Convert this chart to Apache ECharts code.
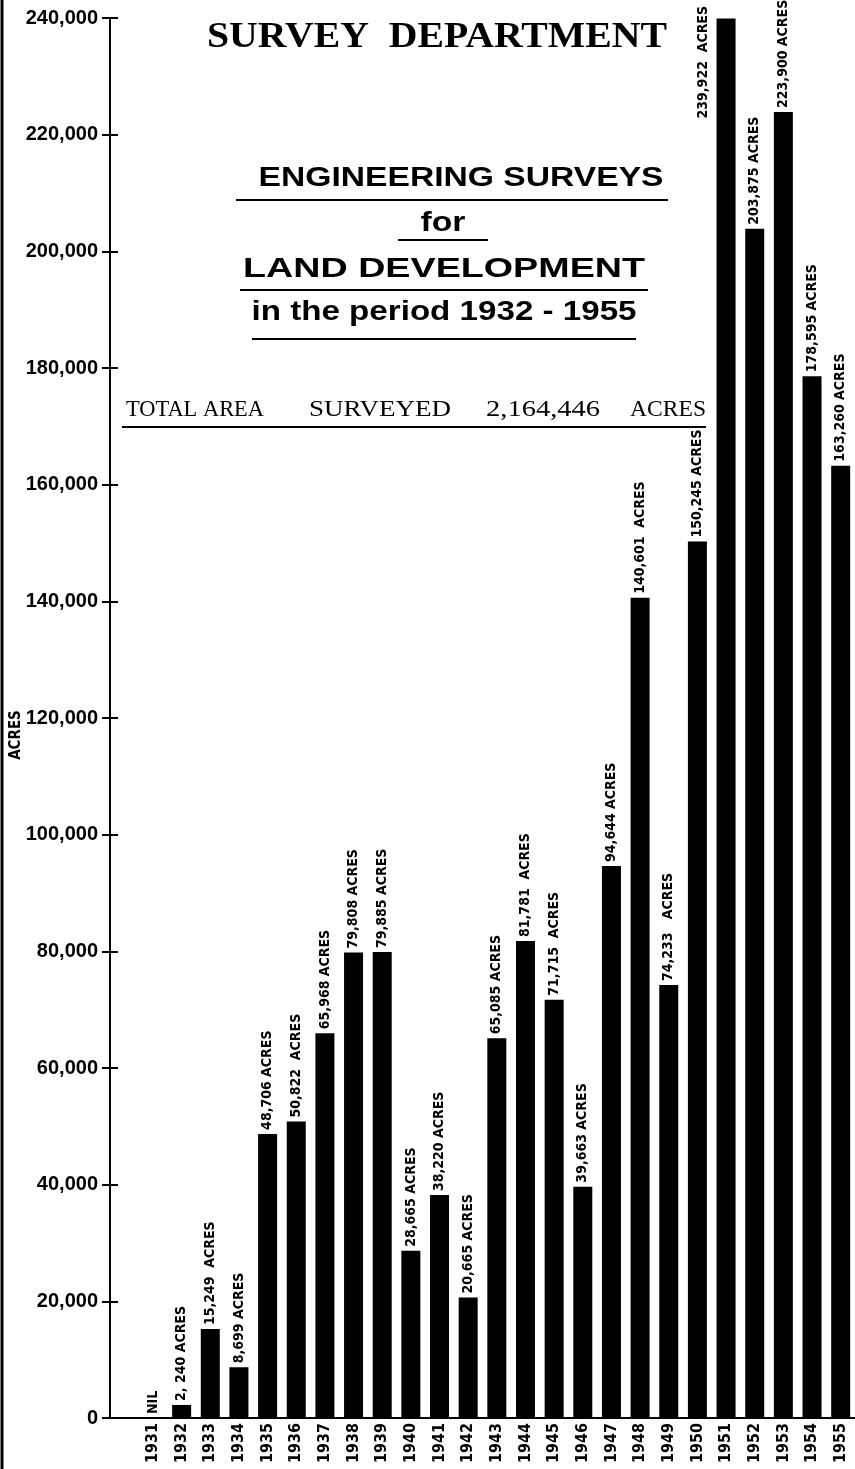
<!DOCTYPE html>
<html>
<head>
<meta charset="utf-8">
<script src="https://cdn.jsdelivr.net/npm/echarts@6/dist/echarts.min.js"></script>
<style>
html,body{margin:0;padding:0;background:#fff;}
#chart{width:855px;height:1469px;}
</style>
</head>
<body>
<div id="chart"></div>
<script>
// ---- data ----
var years = [1931,1932,1933,1934,1935,1936,1937,1938,1939,1940,1941,1942,1943,1944,1945,1946,1947,1948,1949,1950,1951,1952,1953,1954,1955];
var acres = [0,2240,15249,8699,48706,50822,65968,79808,79885,28665,38220,20665,65085,81781,71715,39663,94644,140601,74233,150245,239922,203875,223900,178595,163260];
var barLabels = ["NIL","2, 240 ACRES","15,249  ACRES","8,699 ACRES","48,706 ACRES","50,822  ACRES","65,968 ACRES","79,808 ACRES","79,885 ACRES","28,665 ACRES","38,220 ACRES","20,665 ACRES","65,085 ACRES","81,781  ACRES","71,715  ACRES","39,663 ACRES","94,644 ACRES","140,601  ACRES","74,233   ACRES","150,245 ACRES","239,922  ACRES","203,875 ACRES","223,900 ACRES","178,595 ACRES","163,260 ACRES"];
var yTicks = [0,20000,40000,60000,80000,100000,120000,140000,160000,180000,200000,220000,240000];
var titleMain = "SURVEY  DEPARTMENT";
var subTitles = ["ENGINEERING SURVEYS","for","LAND DEVELOPMENT","in the period 1932 - 1955"];
var totalWords = ["TOTAL AREA","SURVEYED","2,164,446","ACRES"];
var yName = "ACRES";

var COND = "'DejaVu Sans Condensed','Liberation Sans Narrow',sans-serif";
var SERIF = "'Liberation Serif','DejaVu Serif',serif";
var SANS = "'Liberation Sans','DejaVu Sans',sans-serif";

var measureCtx = document.createElement('canvas').getContext('2d');
function textW(txt, font){ measureCtx.font = font; return measureCtx.measureText(txt).width; }
function stretchedText(txt, font, cx, cy, targetW){
  var w = textW(txt, font);
  return {type:'text', x:cx, y:cy, scaleX: targetW / w, z:10,
    style:{text:txt, font:font, fill:'#000', x:0, y:0, align:'center', textAlign:'center', verticalAlign:'middle', textVerticalAlign:'middle'}};
}
function hline(x1,x2,y,w){
  return {type:'line', z:10, shape:{x1:x1,y1:y,x2:x2,y2:y}, style:{stroke:'#000', lineWidth:w||2}};
}

var seriesData = years.map(function(y,i){
  var item = {value:[y, acres[i]]};
  if (y === 1951) {
    item.label = {position:[-13, 100]};
  }
  return item;
});

var chart = echarts.init(document.getElementById('chart'), null, {renderer:'canvas'});
var fT = 'bold 36px ' + SERIF;
var fS = 'bold 27px ' + SANS;
var fTot = '24px ' + SERIF;
chart.setOption({
  animation:false,
  backgroundColor:'#fff',
  grid:{left:110, right:0, top:18, bottom:51, containLabel:false, outerBoundsMode:'none'},
  xAxis:{
    type:'value', min:1929.5, max:1955.5, interval:0.5,
    axisLine:{show:true, lineStyle:{color:'#000', width:2}},
    axisTick:{show:false}, splitLine:{show:false},
    axisLabel:{
      rotate:90, margin:5, color:'#000', fontFamily:COND, fontWeight:'bold', fontSize:16,
      showMinLabel:false, showMaxLabel:false,
      formatter:function(v){ return (Math.abs(v-Math.round(v))<1e-6 && years.indexOf(Math.round(v))>=0) ? String(Math.round(v)) : ''; }
    }
  },
  yAxis:[{
    type:'value', min:0, max:240000, interval:20000, offset:0,
    axisLine:{show:true, lineStyle:{color:'#000', width:2}},
    axisTick:{show:true, length:8, lineStyle:{color:'#000', width:2}},
    splitLine:{show:false},
    axisLabel:{color:'#000', fontFamily:SANS, fontWeight:'bold', fontSize:20, margin:12,
      formatter:function(v){ return v===0 ? '0' : v.toLocaleString('en-US'); }}
  },{
    type:'value', min:0, max:240000, interval:20000, position:'left', offset:0,
    axisLine:{show:false}, axisLabel:{show:false}, splitLine:{show:false},
    axisTick:{show:true, inside:true, length:8, lineStyle:{color:'#000', width:2}}
  }],
  series:[{
    type:'bar', yAxisIndex:0, barWidth:19,
    itemStyle:{color:'#000'},
    data:seriesData,
    label:{
      show:true, position:'top', rotate:90, align:'left', verticalAlign:'middle', distance:4,
      color:'#000', fontFamily:COND, fontWeight:'bold', fontSize:14,
      formatter:function(p){ return barLabels[p.dataIndex]; }
    }
  }],
  graphic:[
    {type:'line', z:10, shape:{x1:2,y1:0,x2:2,y2:1469}, style:{stroke:'#000', lineWidth:3}},
    {type:'text', x:16, y:735, rotation:Math.PI/2, z:10,
      style:{text:yName, font:'bold 15px ' + COND, fill:'#000', x:0, y:0, align:'center', textAlign:'center', verticalAlign:'middle', textVerticalAlign:'middle'}},
    stretchedText(titleMain, fT, 437, 38, 460),
    stretchedText(subTitles[0], fS, 461, 179, 405),
    hline(236, 668, 200, 2),
    stretchedText(subTitles[1], fS, 443, 224, 45),
    hline(398, 488, 240, 2),
    stretchedText(subTitles[2], fS, 444, 270, 402),
    hline(240, 648, 290, 2),
    stretchedText(subTitles[3], fS, 444, 313, 385),
    hline(252, 636, 339, 2),
    stretchedText(totalWords[0], fTot, 195, 410, 138),
    stretchedText(totalWords[1], fTot, 380, 410, 142),
    stretchedText(totalWords[2], fTot, 543, 410, 114),
    stretchedText(totalWords[3], fTot, 668, 410, 76),
    hline(122, 706, 427, 2)
  ]
});
</script>
</body>
</html>
